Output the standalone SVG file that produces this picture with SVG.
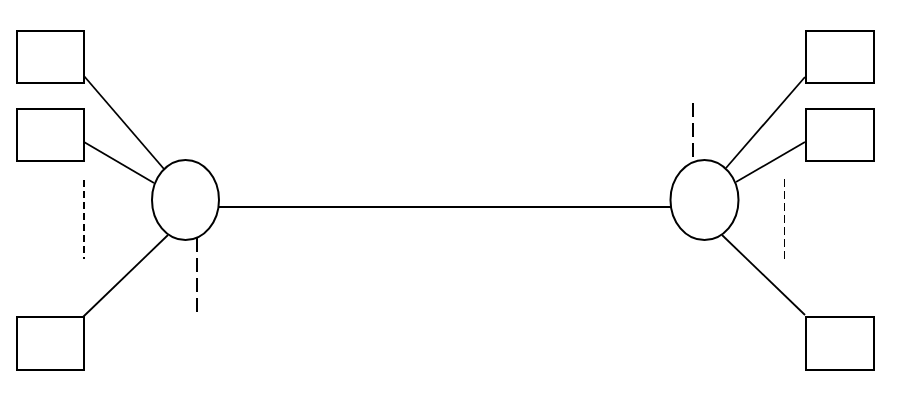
<svg xmlns="http://www.w3.org/2000/svg" width="897" height="417" viewBox="0 0 897 417">
<style>
.box{fill:#fff;stroke:#000;stroke-width:2}
.hub{fill:#fff;stroke:#000;stroke-width:2}
.ln{stroke:#000;stroke-width:1.8;fill:none}
.d1{stroke:#000;stroke-width:2;stroke-dasharray:7 4;fill:none}
.d2{stroke:#000;stroke-width:2;stroke-dasharray:14 6;fill:none}
.d3{stroke:#000;stroke-width:1;stroke-dasharray:8 4;fill:none}
</style>
<rect width="897" height="417" fill="#fff"/>
<g id="connectors">
<line class="ln" x1="219" y1="207" x2="671" y2="207"/>
<line class="ln" x1="84" y1="76" x2="164" y2="169"/>
<line class="ln" x1="84" y1="142" x2="154" y2="183"/>
<line class="ln" x1="83" y1="317" x2="168" y2="235"/>
<line class="ln" x1="805" y1="77" x2="726" y2="168"/>
<line class="ln" x1="805" y1="142" x2="736" y2="182"/>
<line class="ln" x1="805" y1="315" x2="722" y2="235"/>
<line class="d1" x1="84" y1="180" x2="84" y2="259"/>
<line class="d2" x1="197" y1="238" x2="197" y2="318"/>
<line class="d2" x1="693" y1="103" x2="693" y2="162"/>
<line class="d3" x1="784.5" y1="179" x2="784.5" y2="260"/>
</g>
<g id="box-l1"><rect class="box" x="17" y="31" width="67" height="52"/></g>
<g id="box-l2"><rect class="box" x="17" y="109" width="67" height="52"/></g>
<g id="box-l3"><rect class="box" x="17" y="317" width="67" height="53"/></g>
<g id="box-r1"><rect class="box" x="806" y="31" width="68" height="52"/></g>
<g id="box-r2"><rect class="box" x="806" y="109" width="68" height="52"/></g>
<g id="box-r3"><rect class="box" x="806" y="317" width="68" height="53"/></g>
<g id="hub-left"><ellipse class="hub" cx="185.5" cy="200" rx="33.5" ry="40"/></g>
<g id="hub-right"><ellipse class="hub" cx="704.5" cy="200" rx="34" ry="40"/></g>
</svg>
